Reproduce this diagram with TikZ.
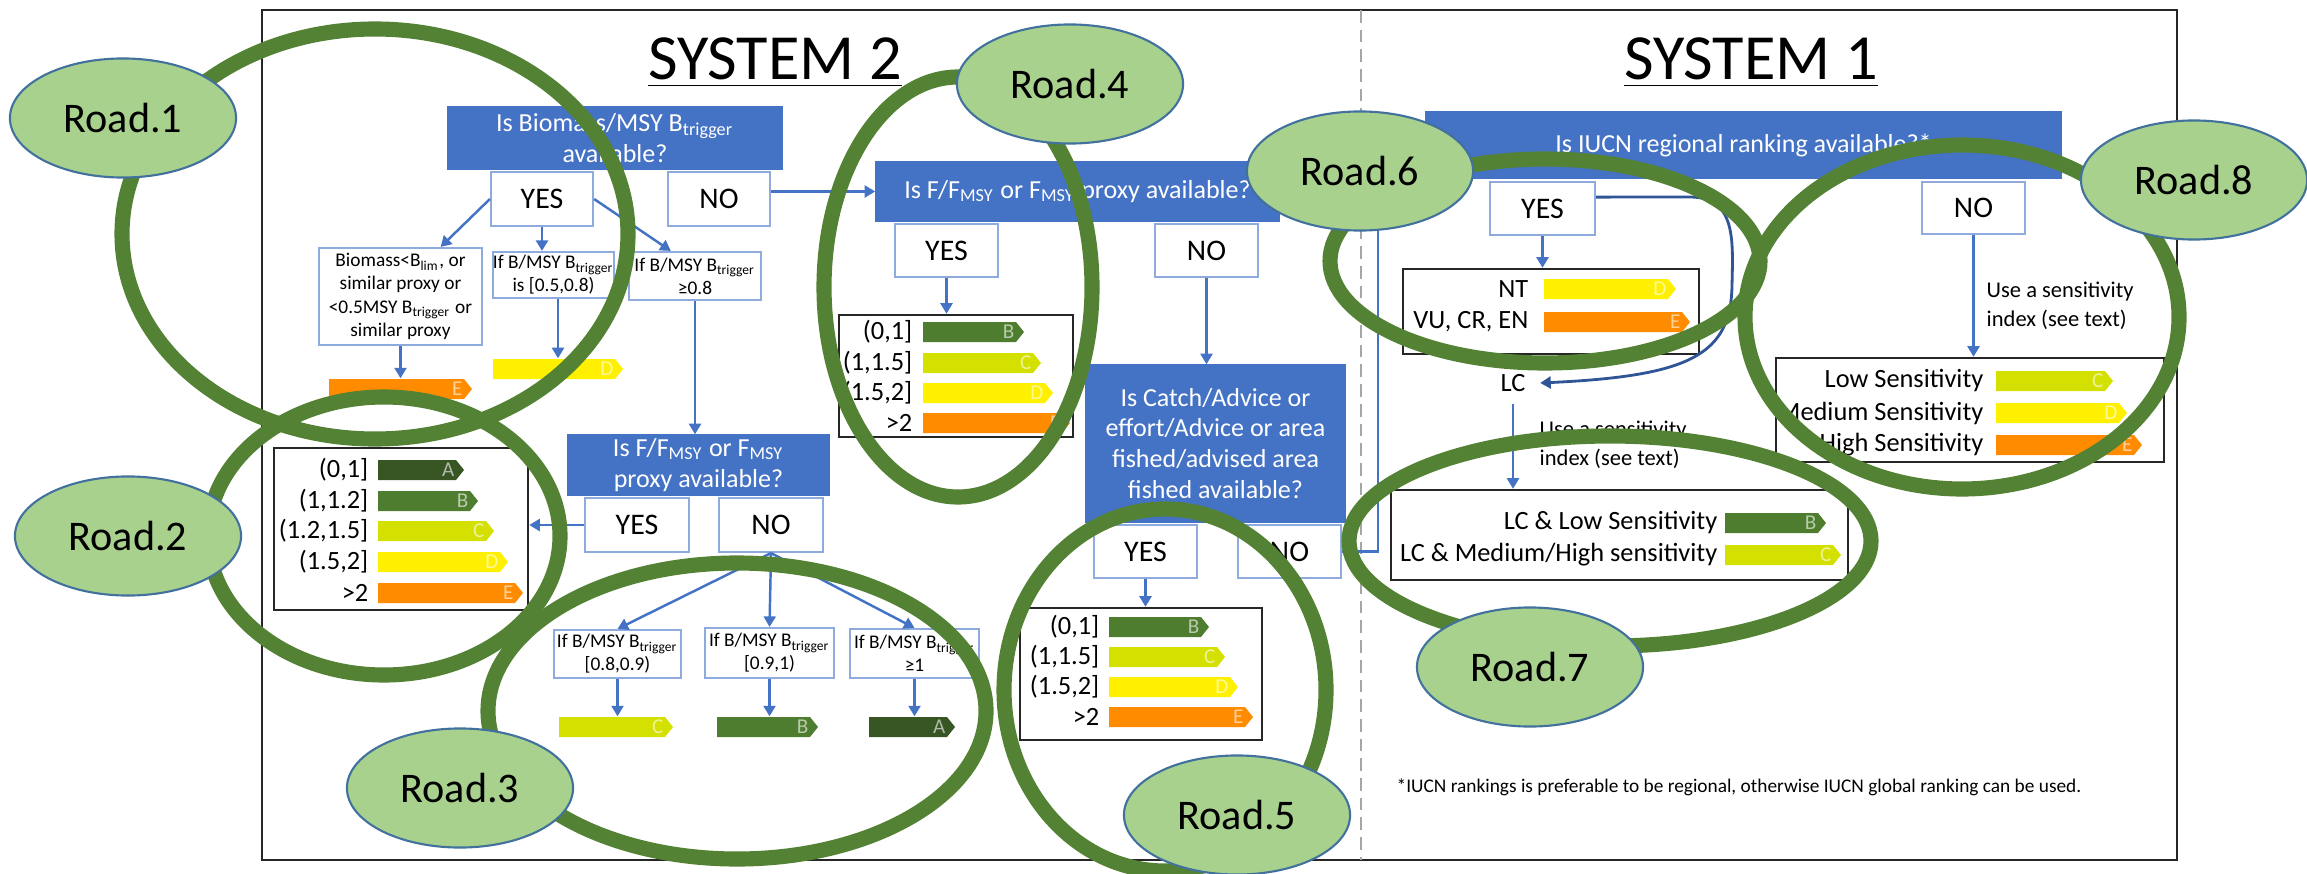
\documentclass[tikz,border=0pt]{standalone}
\usepackage{fontspec}
\setmainfont{Carlito}
\usetikzlibrary{arrows.meta,fit,shapes.geometric}

\definecolor{qblue}{HTML}{4472C4}
\definecolor{boxedge}{HTML}{8FAADC}
\definecolor{navy}{HTML}{2F5597}
\definecolor{ringgreen}{HTML}{548235}
\definecolor{roadfill}{HTML}{A9D18E}
\definecolor{roadedge}{HTML}{41719C}
\definecolor{divgray}{HTML}{A6A6A6}
\definecolor{gA}{HTML}{375623}
\definecolor{gB}{HTML}{4E7D2F}
\definecolor{gC}{HTML}{D4E000}
\definecolor{gD}{HTML}{FFF000}
\definecolor{gE}{HTML}{FF8C00}

\tikzset{
  question/.style={fill=qblue, draw=qblue, text=white, inner sep=0pt, align=center, font=\fontsize{7.4}{8.8}\selectfont},
  answer/.style={draw=boxedge, fill=white, line width=0.6pt, inner sep=0pt, minimum width=1.03cm,
    minimum height=0.53cm, font=\fontsize{8.5}{10}\selectfont},
  cond/.style={draw=boxedge, fill=white, line width=0.6pt, inner sep=0pt, align=center, font=\fontsize{5.5}{6.6}\selectfont},
  legbox/.style={draw=black!85, line width=0.7pt, inner sep=0pt},
  leglabel/.style={anchor=east, inner sep=0pt, font=\fontsize{7.5}{9}\selectfont},
  barletter/.style={anchor=east, inner sep=0pt, text=white, text opacity=0.6, font=\fontsize{6}{6}\selectfont},
  flow/.style={draw=qblue, line width=0.7pt, -{Triangle[length=3pt,width=3.4pt]}},
  loopback/.style={draw=navy, line width=0.8pt, -{Triangle[length=3pt,width=3.4pt]}},
  usenote/.style={anchor=west, align=left, inner sep=0pt, font=\fontsize{6.4}{8.2}\selectfont},
  systitle/.style={anchor=base, inner sep=0pt, font=\fontsize{18.3}{22}\selectfont},
  ring/.style={draw=ringgreen, line width=4.3pt},
  road/.style={ellipse, draw=roadedge, fill=roadfill, line width=0.6pt, inner sep=0pt,
    minimum width=2.26cm, minimum height=1.19cm, font=\fontsize{12}{14}\selectfont},
}

% name, x start, x end, y, colour, grade
\newcommand{\gradebar}[6]{%
  \fill[fill=#5] (#2,#4-10) -- (#3-8,#4-10) -- (#3,#4) -- (#3-8,#4+10) -- (#2,#4+10) -- cycle;
  \node[inner sep=0pt, fit={(#2,#4-10) (#3,#4+10)}] (#1) {};
  \node[barletter] (#1-l) at (#3-9,#4) {#6};
}

\begin{document}
\begin{tikzpicture}[x=0.01cm, y=-0.01cm]
  \useasboundingbox (0,0) rectangle (2307,873);
  \draw[line width=0.8pt, black!85] (262,10) rectangle (2177,860);
  \draw[divgray, line width=0.6pt, dash pattern=on 3.6pt off 2pt] (1361,10) -- (1361,860);

  \node[systitle] (sys2) at (775,80) {\underline{SYSTEM 2}};
  \node[systitle] (sys1) at (1751,80) {\underline{SYSTEM 1}};

  \node[question, minimum width=3.34cm, minimum height=0.62cm] (q1) at (615,138) {Is Biomass/MSY B\textsubscript{trigger}\\available?};
  \node[answer, minimum width=1.02cm, minimum height=0.54cm] (y1) at (542,199) {YES};
  \node[answer, minimum width=1.02cm, minimum height=0.54cm] (n1) at (719,199) {NO};
  \node[cond, minimum width=1.63cm, minimum height=0.97cm] (b1) at (400.5,296.5) {Biomass<B\textsubscript{lim}, or\\similar proxy or\\<0.5MSY B\textsubscript{trigger} or\\similar proxy};
  \node[cond, minimum width=1.21cm, minimum height=0.46cm] (b2) at (553.5,275) {If B/MSY B\textsubscript{trigger}\\is [0.5,0.8)};
  \node[cond, minimum width=1.32cm, minimum height=0.48cm] (b3) at (695,276) {If B/MSY B\textsubscript{trigger}\\≥0.8};
  \gradebar{bare}{329}{472}{389}{gE}{E}
  \gradebar{bard}{493}{623}{369}{gD}{D}

  \node[question, minimum width=2.61cm, minimum height=0.60cm] (q2) at (698.5,465) {Is F/F\textsubscript{MSY} or F\textsubscript{MSY}\\proxy available?};
  \node[answer, minimum width=1.04cm, minimum height=0.54cm] (y2) at (637,525) {YES};
  \node[answer, minimum width=1.04cm, minimum height=0.54cm] (n2) at (771,525) {NO};
  \node[legbox, fit={(274,448) (528,610)}] (leg2) {};
  \foreach \lab/\yy/\xe/\col/\grade [count=\i] in {{(0,1]}/470/464/gA/A, {(1,1.2]}/501/478/gB/B,
      {(1.2,1.5]}/531/494/gC/C, {(1.5,2]}/562/508/gD/D, {>2}/593/523/gE/E}
    {\node[leglabel] (leg2t\i) at (369,\yy) {\lab};
     \gradebar{leg2b\i}{378}{\xe}{\yy}{\col}{\grade}}
  \node[cond, minimum width=1.27cm, minimum height=0.48cm] (c1) at (617.5,654) {If B/MSY B\textsubscript{trigger}\\{[}0.8,0.9)};
  \node[cond, minimum width=1.29cm, minimum height=0.50cm] (c2) at (769.5,653) {If B/MSY B\textsubscript{trigger}\\{[}0.9,1)};
  \node[cond, minimum width=1.29cm, minimum height=0.49cm] (c3) at (914.5,653.5) {If B/MSY B\textsubscript{trigger}\\≥1};
  \gradebar{barc}{559}{673}{727}{gC}{C}
  \gradebar{barb}{717}{818}{727}{gB}{B}
  \gradebar{bara}{869}{955}{727}{gA}{A}

  \node[question, minimum width=4.03cm, minimum height=0.59cm] (q3) at (1077.5,191.5) {Is F/F\textsubscript{MSY} or F\textsubscript{MSY} proxy available?};
  \node[answer] (y3) at (946.5,250.5) {YES};
  \node[answer] (n3) at (1206.5,250.5) {NO};
  \node[legbox, fit={(839,315) (1073,437)}] (leg4) {};
  \foreach \lab/\yy/\xe/\col/\grade [count=\i] in {{(0,1]}/332/1024/gB/B, {(1,1.5]}/363/1041/gC/C,
      {(1.5,2]}/393/1053/gD/D, {>2}/423/1070/gE/E}
    {\node[leglabel] (leg4t\i) at (913,\yy) {\lab};
     \gradebar{leg4b\i}{923}{\xe}{\yy}{\col}{\grade}}

  \node[question, minimum width=2.59cm, minimum height=1.57cm] (q4) at (1215.5,443.5) {Is Catch/Advice or\\effort/Advice or area\\fished/advised area\\fished available?};
  \node[answer] (y4) at (1145.5,551.5) {YES};
  \node[answer] (n4) at (1289.5,551.5) {NO};
  \node[legbox, fit={(1020,608) (1262,740)}] (leg5) {};
  \foreach \lab/\yy/\xe/\col/\grade [count=\i] in {{(0,1]}/627/1209/gB/B, {(1,1.5]}/657/1225/gC/C,
      {(1.5,2]}/687/1238/gD/D, {>2}/717/1253/gE/E}
    {\node[leglabel] (leg5t\i) at (1100,\yy) {\lab};
     \gradebar{leg5b\i}{1109}{\xe}{\yy}{\col}{\grade}}

  \node[question, minimum width=6.35cm, minimum height=0.67cm] (iucn) at (1743.5,145) {Is IUCN regional ranking available?*};
  \node[answer, minimum width=1.05cm] (y5) at (1542.5,208.5) {YES};
  \node[answer, minimum height=0.52cm] (n5) at (1973.5,208) {NO};
  \node[legbox, fit={(1403,269) (1699,354)}] (leg6) {};
  \foreach \lab/\yy/\xe/\col/\grade [count=\i] in {NT/289/1676/gD/D, {VU, CR, EN}/322/1690/gE/E}
    {\node[leglabel] (leg6t\i) at (1529,\yy) {\lab};
     \gradebar{leg6b\i}{1544}{\xe}{\yy}{\col}{\grade}}
  \node[font=\fontsize{7.5}{9}\selectfont, inner xsep=4pt] (lc) at (1513,383) {LC};
  \node[usenote] (note7) at (1539,445) {Use a sensitivity\\index (see text)};
  \node[legbox, fit={(1391,490) (1848,580)}] (leg7) {};
  \foreach \lab/\yy/\xe/\col/\grade [count=\i] in {{LC \& Low Sensitivity}/523/1826/gB/B,
      {LC \& Medium/High sensitivity}/555/1841/gC/C}
    {\node[leglabel] (leg7t\i) at (1718,\yy) {\lab};
     \gradebar{leg7b\i}{1725}{\xe}{\yy}{\col}{\grade}}
  \node[usenote] (note8) at (1986,306) {Use a sensitivity\\index (see text)};
  \node[legbox, fit={(1776,358) (2164,462)}] (leg8) {};
  \foreach \lab/\yy/\xe/\col/\grade [count=\i] in {Low Sensitivity/381/2113/gC/C,
      Medium Sensitivity/413/2127/gD/D, High Sensitivity/445/2142/gE/E}
    {\node[leglabel] (leg8t\i) at (1984,\yy) {\lab};
     \gradebar{leg8b\i}{1996}{\xe}{\yy}{\col}{\grade}}
  \node[anchor=west, inner sep=0pt, font=\fontsize{5.5}{6.6}\selectfont] (foot) at (1396,787)
    {*IUCN rankings is preferable to be regional, otherwise IUCN global ranking can be used.};

  \coordinate (turn) at (1378,0);
  \draw[flow] (y1.west) -- (b1.51);
  \draw[flow] (y1.south) -- (y1.south |- b2.north);
  \draw[flow] (y1.east) -- (b3.134);
  \draw[flow] (b1.south) -- (bare.north);
  \draw[flow] (bard.north |- b2.south) -- (bard.north);
  \draw[flow] (b3.south) -- (b3.south |- q2.north);
  \draw[flow] (q3.west -| n1.east) -- (q3.west);
  \draw[flow] (y2.west) -- (y2.west -| leg2.east);
  \draw[flow] (n2.south) -- (c1.north);
  \draw[flow] (n2.south) -- (c2.north);
  \draw[flow] (n2.south) -- (c3.north);
  \draw[flow] (c1.south) -- (c1.south |- barc.north);
  \draw[flow] (c2.south) -- (c2.south |- barb.north);
  \draw[flow] (c3.south) -- (c3.south |- bara.north);
  \draw[flow] (y3.south) -- (y3.south |- leg4.north);
  \draw[flow] (n3.south) -- (n3.south |- q4.north);
  \draw[flow] (y4.south) -- (y4.south |- leg5.north);
  \draw[flow] (n4.east) -- (n4.east -| turn) |- (iucn.west);
  \draw[flow] (y5.south) -- (y5.south |- leg6.north);
  \draw[loopback] (y5.12) -- (1690,197) .. controls (1736,197) and (1733,240) .. (1732,285)
    .. controls (1731,355) and (1690,376) .. (lc.east);
  \draw[flow] (lc.south) -- (lc.south |- leg7.north);
  \draw[flow] (n5.south) -- (n5.south |- leg8.north);

  \foreach \cx/\cy/\rx/\ry in {375/234/253/205, 384/536/176/139, 737/711/249/148, 958/287/134/210,
      1165/690/161/181, 1545/261/215/102, 1610/541/261/105, 1962/317/217/172}
    \draw[ring] (\cx,\cy) ellipse [x radius=\rx, y radius=\ry];

  \node[road] (road1) at (123,118) {Road.1};
  \node[road] (road2) at (128,536) {Road.2};
  \node[road] (road3) at (460,788) {Road.3};
  \node[road] (road4) at (1070,84) {Road.4};
  \node[road] (road5) at (1237,815) {Road.5};
  \node[road] (road6) at (1360,171) {Road.6};
  \node[road] (road7) at (1530,667) {Road.7};
  \node[road] (road8) at (2194,180) {Road.8};
\end{tikzpicture}
\end{document}
